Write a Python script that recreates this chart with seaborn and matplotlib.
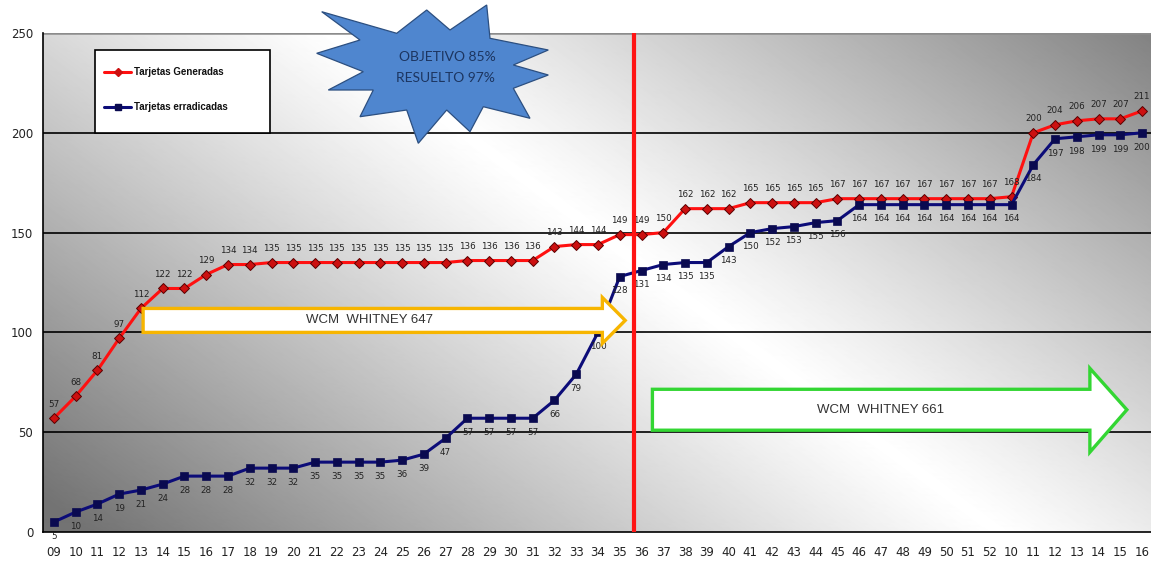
import numpy as np
import pandas as pd
import matplotlib
matplotlib.use("Agg")
import matplotlib.pyplot as plt
import seaborn as sns
from matplotlib.patches import Polygon, Rectangle
from matplotlib.lines import Line2D

# Weeks (09..52 of one year, then 10..16 of the next)
semanas = [f"{w:02d}" for w in range(9, 53)] + [f"{w:02d}" for w in range(10, 17)]

generadas = [57, 68, 81, 97, 112, 122, 122, 129, 134, 134,
             135, 135, 135, 135, 135, 135, 135, 135, 135,
             136, 136, 136, 136, 143, 144, 144, 149, 149, 150,
             162, 162, 162, 165, 165, 165, 165,
             167, 167, 167, 167, 167, 167, 167, 167,
             168, 200, 204, 206, 207, 207, 211]

erradicadas = [5, 10, 14, 19, 21, 24, 28, 28, 28, 32, 32, 32, 35, 35, 35, 35,
               36, 39, 47, 57, 57, 57, 57, 66, 79, 100, 128, 131, 134, 135, 135,
               143, 150, 152, 153, 155, 156,
               164, 164, 164, 164, 164, 164, 164,
               164, 184, 197, 198, 199, 199, 200]

serie_gen = "Tarjetas Generadas"
serie_err = "Tarjetas erradicadas"

sns.set_style("white")
plt.rcParams["font.family"] = ["DejaVu Sans"]

W_PX, H_PX = 1151, 563
fig = plt.figure(figsize=(W_PX / 100, H_PX / 100), dpi=100)
fig.patch.set_facecolor("white")
AX_L, AX_R, AX_T, AX_B = 43, 1153, 33, 532
ax = fig.add_axes([AX_L / W_PX, 1 - AX_B / H_PX, (AX_R - AX_L) / W_PX, (AX_B - AX_T) / H_PX])

n = len(semanas)
df = pd.DataFrame({"pos": np.arange(n), serie_gen: generadas, serie_err: erradicadas})

# diagonal grey shading of the plot area
ph, pw = 500, 1110
py, px = np.mgrid[0:ph, 0:pw]
d = ((px - 287) * 500 - py * 670) / 836
shade = np.clip(1 - 0.5 * (np.abs(d) / 500) ** 1.1, 0.45, 1)
ax.imshow(shade, cmap="gray", vmin=0, vmax=1, extent=(-0.5, n - 0.5, 0, 250),
          aspect="auto", origin="upper", zorder=0, interpolation="bilinear")

for yv in [50, 100, 150, 200]:
    ax.axhline(yv, color="black", lw=1.2, zorder=1)
ax.axhline(250, color="#8c8c8c", lw=1.8, zorder=1)

sns.lineplot(data=df, x="pos", y=serie_gen, ax=ax, color="#ff1010", lw=2.2,
             marker="D", markersize=5, markerfacecolor="#cc1010",
             markeredgecolor="#5a0000", markeredgewidth=0.7, zorder=4)
sns.lineplot(data=df, x="pos", y=serie_err, ax=ax, color="#0c0c78", lw=2.2,
             marker="s", markersize=5.5, markerfacecolor="#0a0a50",
             markeredgecolor="#0a0a50", markeredgewidth=0.5, zorder=4)

for i, v in enumerate(generadas):
    ax.annotate(str(v), (i, v), xytext=(0, 7), textcoords="offset points",
                ha="center", va="bottom", fontsize=6.3, color="#222222", zorder=6)
for i, v in enumerate(erradicadas):
    ax.annotate(str(v), (i, v), xytext=(0, -7), textcoords="offset points",
                ha="center", va="top", fontsize=6.3, color="#222222", zorder=6)

# red divider between week 35 and 36
ax.axvline(26.66, color="#ff1414", lw=3, zorder=7)

# block arrows
def block_arrow(x0, x1, xtip, ylo, yhi, hlo, hhi, color, text, tx):
    ymid = (ylo + yhi) / 2
    verts = [(x0, ylo), (x1, ylo), (x1, hlo), (xtip, ymid), (x1, hhi), (x1, yhi), (x0, yhi)]
    ax.add_patch(Polygon(verts, closed=True, facecolor="white", edgecolor=color,
                         lw=2.4, joinstyle="miter", zorder=8))
    ax.text(tx, ymid, text, ha="center", va="center", fontsize=9.5,
            family="Liberation Sans", color="#333333", zorder=9)

block_arrow(4.1, 25.2, 26.25, 100, 112, 94.5, 117.5, "#f7b500", "WCM  WHITNEY 647", 14.5)
block_arrow(27.5, 47.6, 49.3, 51, 71.5, 40, 82, "#33d633", "WCM  WHITNEY 661", 38.0)

ax.set_xlim(-0.5, n - 0.5)
ax.set_ylim(0, 250)
ax.set_xlabel("")
ax.set_ylabel("")
ax.set_xticks(np.arange(n))
ax.set_xticklabels(semanas)
ax.set_xticks(np.arange(-0.5, n, 1), minor=True)
ax.tick_params(axis="x", which="major", length=0, pad=10, labelsize=8.5, labelcolor="#222222")
ax.tick_params(axis="x", which="minor", length=5, width=1, color="black", direction="out")
ax.set_yticks(range(0, 251, 50))
ax.tick_params(axis="y", length=5, width=1, color="black", direction="out", pad=2,
               labelsize=8.5, labelcolor="#222222")
for s in ["top", "right"]:
    ax.spines[s].set_visible(False)
for s in ["left", "bottom"]:
    ax.spines[s].set_color("black")
    ax.spines[s].set_linewidth(1.2)
ax.grid(False)

# legend box drawn in figure pixels
def fx(x):
    return x / W_PX

def fy(y):
    return 1 - y / H_PX

fig.add_artist(Rectangle((fx(95), fy(133)), fx(270) - fx(95), fy(50) - fy(133),
                         transform=fig.transFigure, facecolor="white",
                         edgecolor="black", lw=1.2, zorder=20))
for ypx, col, mk, mfc, lab in [(72, "#ff1010", "D", "#cc1010", serie_gen),
                               (107, "#0c0c78", "s", "#0a0a50", serie_err)]:
    fig.add_artist(Line2D([fx(104), fx(131)], [fy(ypx), fy(ypx)], transform=fig.transFigure,
                          color=col, lw=2.2, zorder=21))
    fig.add_artist(Line2D([fx(117.5)], [fy(ypx)], transform=fig.transFigure, marker=mk,
                          markersize=4, markerfacecolor=mfc, markeredgecolor=mfc,
                          color=col, zorder=22))
    fig.text(fx(134), fy(ypx), lab, ha="left", va="center", fontsize=7, weight="bold",
             family="Liberation Sans", color="#111111", zorder=22)

# starburst callout
star_px = [(321.7, 11.7), (396.7, 33.3), (426.7, 10), (450, 30), (486.7, 5), (490, 38.3),
           (548.3, 50), (513.3, 65), (548.3, 75), (513.3, 88.3), (530, 118.3),
           (483.3, 106.7), (470, 131.7), (446.7, 110), (418.3, 143.3), (406.7, 110),
           (360, 116.7), (373.3, 90), (328.3, 90), (363.3, 71.7), (316.7, 53.3), (360, 40)]
fig.add_artist(Polygon([(fx(x), fy(y)) for x, y in star_px], closed=True,
                       transform=fig.transFigure, facecolor="#4f86cf",
                       edgecolor="#2c4f80", lw=0.9, zorder=20))
fig.text(fx(447), fy(57), "OBJETIVO 85%", ha="center", va="center", fontsize=10,
         family="Lato", color="#1c3560", zorder=21)
fig.text(fx(445), fy(78), "RESUELTO 97%", ha="center", va="center", fontsize=10,
         family="Lato", color="#1c3560", zorder=21)

fig.savefig("out.png", dpi=100, facecolor="white")
